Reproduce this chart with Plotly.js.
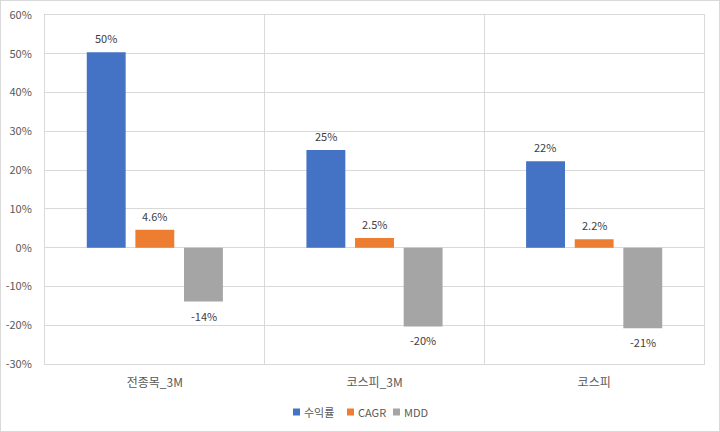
<!DOCTYPE html>
<html>
<head>
<meta charset="utf-8">
<script src="https://cdn.plot.ly/plotly-3.0.1.min.js"></script>
<style>
  html, body { margin: 0; padding: 0; background: #fff; }
  #wrap { position: relative; width: 720px; height: 432px; }
  #chart { width: 720px; height: 432px; }
  #frame { position: absolute; left: 0; top: 0; width: 718px; height: 430px;
           border: 1px solid #d9d9d9; pointer-events: none; }
</style>
</head>
<body>
<div id="wrap">
  <div id="chart"></div>
  <div id="frame"></div>
</div>
<script>
// Categories and series
const categories = ['전종목_3M', '코스피_3M', '코스피'];
const seriesNames = ['수익률', 'CAGR', 'MDD'];
const returns = [0.504, 0.252, 0.223];
const cagr = [0.046, 0.025, 0.022];
const mdd = [-0.139, -0.203, -0.208];
const labelDigits = [0, 1, 0];
const colors = ['#4472C4', '#ED7D31', '#A5A5A5'];

// Y axis ticks
const yTickVals = [-0.3, -0.2, -0.1, 0, 0.1, 0.2, 0.3, 0.4, 0.5, 0.6];
const yTickText = ['-30%', '-20%', '-10%', '0%', '10%', '20%', '30%', '40%', '50%', '60%'];

const seriesValues = [returns, cagr, mdd];
const FONT = '"Noto Sans CJK KR", "Malgun Gothic", sans-serif';

const W = 720, H = 432;
const M = { l: 45, r: 16, t: 15, b: 68 };
const plotW = W - M.l - M.r, plotH = H - M.t - M.b;
const px2x = px => (px - M.l) / plotW;
const px2y = py => (H - M.b - py) / plotH;

const traces = seriesValues.map((vals, i) => ({
  type: 'bar',
  name: seriesNames[i],
  x: categories,
  y: vals,
  marker: { color: colors[i] },
  hoverinfo: 'skip',
  showlegend: false
}));

function pct(v, digits) {
  return (v * 100).toFixed(digits) + '%';
}

// Value labels above positive bars, below negative bars
const annotations = [];
const shapes = [];
const nSeries = seriesValues.length;
seriesValues.forEach((vals, i) => {
  vals.forEach((v, j) => {
    annotations.push({
      x: j, xref: 'x', y: v, yref: 'y',
      xshift: (i - (nSeries - 1) / 2) * 48.7,
      yshift: v >= 0 ? 14 : -14,
      text: pct(v, labelDigits[i]),
      showarrow: false,
      xanchor: 'center', yanchor: 'middle',
      font: { family: FONT, size: 11, color: '#404040' }
    });
  });
});

// Legend: small colour squares followed by series names
const legendSquareX = [293, 347, 393];
const legendY = 412;
seriesNames.forEach((name, i) => {
  const sx = legendSquareX[i];
  shapes.push({
    type: 'rect', xref: 'paper', yref: 'paper',
    x0: px2x(sx), x1: px2x(sx + 7),
    y0: px2y(legendY + 3.5), y1: px2y(legendY - 3.5),
    fillcolor: colors[i], line: { width: 0 }
  });
  annotations.push({
    x: px2x(sx + 9), xref: 'paper', y: px2y(legendY), yref: 'paper',
    text: name, showarrow: false,
    xanchor: 'left', yanchor: 'middle',
    font: { family: FONT, size: 11, color: '#595959' }
  });
});

const layout = {
  width: W, height: H,
  margin: { l: M.l, r: M.r, t: M.t, b: M.b, autoexpand: false },
  paper_bgcolor: '#ffffff',
  plot_bgcolor: '#ffffff',
  font: { family: FONT, size: 11, color: '#595959' },
  barmode: 'group',
  bargap: 0.336,
  bargroupgap: 0.2,
  showlegend: false,
  xaxis: {
    type: 'category',
    tickson: 'boundaries',
    showgrid: true,
    gridcolor: '#d9d9d9',
    gridwidth: 1,
    showline: true,
    mirror: true,
    linecolor: '#d9d9d9',
    linewidth: 1,
    ticks: '',
    ticklabelstandoff: 8,
    tickfont: { family: FONT, size: 12, color: '#595959' },
    zeroline: false
  },
  yaxis: {
    range: [-0.3, 0.6],
    tickvals: yTickVals,
    ticktext: yTickText,
    showgrid: true,
    gridcolor: '#d9d9d9',
    gridwidth: 1,
    zeroline: true,
    zerolinecolor: '#d9d9d9',
    zerolinewidth: 1,
    showline: true,
    mirror: true,
    linecolor: '#d9d9d9',
    linewidth: 1,
    ticks: '',
    ticklabelstandoff: 10,
    tickfont: { family: FONT, size: 11, color: '#595959' }
  },
  shapes: shapes,
  annotations: annotations
};

Plotly.newPlot('chart', traces, layout, { displayModeBar: false, staticPlot: true });
</script>
</body>
</html>
